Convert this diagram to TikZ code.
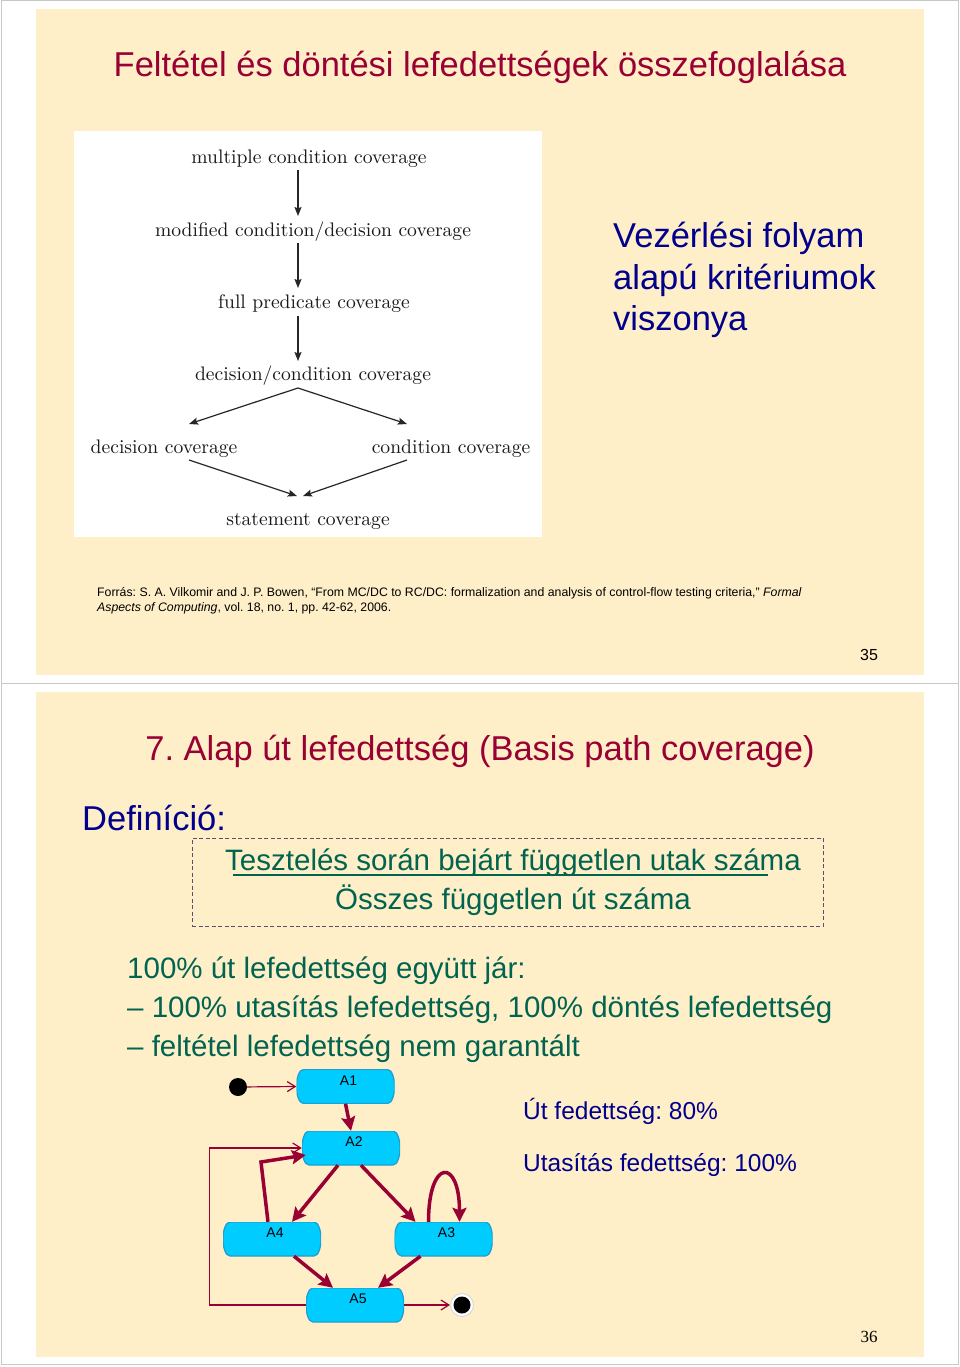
\documentclass[tikz,border=0pt]{standalone}
\usepackage{fontspec}
\newfontfamily\arialf{Liberation Sans}
\newfontfamily\timesf{Liberation Serif}
\usetikzlibrary{arrows.meta,calc}
\definecolor{cream}{RGB}{255,239,200}
\definecolor{dred}{RGB}{153,0,51}
\definecolor{dblue}{RGB}{0,0,140}
\definecolor{tealtx}{RGB}{0,100,80}
\definecolor{cyanbox}{RGB}{0,204,255}
\definecolor{cyanedge}{RGB}{30,160,210}
\definecolor{pageline}{RGB}{200,200,200}
\definecolor{dashc}{RGB}{90,80,110}
\definecolor{cmtext}{RGB}{25,25,25}
\begin{document}
\frenchspacing
\begin{tikzpicture}[x=1pt,y=-1pt,
  ttl/.style={font=\arialf\fontsize{34.5}{40}\selectfont, text=dred, inner sep=0, anchor=base},
  bluebig/.style={font=\arialf\fontsize{34.5}{41.5}\selectfont, text=dblue, inner sep=0},
  tealtext/.style={font=\arialf\fontsize{29.5}{35}\selectfont, text=tealtx, inner sep=0},
  bluemid/.style={font=\arialf\fontsize{24.5}{30}\selectfont, text=dblue, inner sep=0, anchor=base west},
  cmlbl/.style={text=cmtext, inner sep=0, anchor=base, scale=1.96, transform shape},
  cmarr/.style={draw=black!85, line width=1.2pt, -{Stealth[length=9pt,width=7pt,inset=1.5pt]}},
  actbox/.style={rectangle, minimum width=98pt, minimum height=34pt, inner sep=0pt,
    path picture={
      \path (path picture bounding box.north west) coordinate (pnw)
            (path picture bounding box.north east) coordinate (pne)
            (path picture bounding box.south west) coordinate (psw)
            (path picture bounding box.south east) coordinate (pse)
            (path picture bounding box.west) coordinate (pw)
            (path picture bounding box.east) coordinate (pe);
      \draw[fill=cyanbox, draw=cyanedge, line width=1.3pt]
        ($(pnw)+(7,0)$) -- ($(pne)+(-7,0)$)
        .. controls ($(pne)+(-2.5,0)$) and ($(pe)+(0,-8)$) .. (pe)
        .. controls ($(pe)+(0,8)$) and ($(pse)+(-2.5,0)$) .. ($(pse)+(-7,0)$)
        -- ($(psw)+(7,0)$)
        .. controls ($(psw)+(2.5,0)$) and ($(pw)+(0,8)$) .. (pw)
        .. controls ($(pw)+(0,-8)$) and ($(pnw)+(2.5,0)$) .. cycle;
    }},
  lbl/.style={anchor=north, inner sep=0pt, yshift=-6pt, xshift=3pt, font=\arialf\fontsize{14}{16}\selectfont},
  thk/.style={draw=dred, line width=3.5pt, -{Stealth[length=14pt,width=14pt,inset=2.5pt]}},
  thn/.style={draw=dred, line width=1.2pt, -{Straight Barb[length=8pt,width=10pt]}},
  blackdot/.style={circle, fill=black, inner sep=0pt, minimum size=18pt}
]
\useasboundingbox (0,0) rectangle (960,1367);
\fill[white] (0,0) rectangle (960,1367);
% page frames
\draw[pageline, line width=1pt] (1,1) rectangle (958,683);
\draw[pageline, line width=1pt] (1,683) rectangle (958,1364);
% panels
\fill[cream] (36,9) rectangle (924,675);
\fill[cream] (36,692) rectangle (924,1357);

% ---------- slide 35 ----------
\node[ttl] (t1) at (480,77) {Feltétel és döntési lefedettségek összefoglalása};
\fill[white] (74,131) rectangle (542,537);

\node[cmlbl] (mcc) at (309,164) {multiple condition coverage};
\node[cmlbl] (mcdc) at (313,236) {modified condition/decision coverage};
\node[cmlbl] (fpc) at (314,308) {full predicate coverage};
\node[cmlbl] (dcc) at (313,380) {decision/condition coverage};
\node[cmlbl] (dc) at (164,453) {decision coverage};
\node[cmlbl] (cc) at (451,453) {condition coverage};
\node[cmlbl] (sc) at (308,525) {statement coverage};

\coordinate (a1s) at (298,170); \coordinate (a1e) at (298,216);
\coordinate (a2s) at (298,243); \coordinate (a2e) at (298,288);
\coordinate (a3s) at (298,316); \coordinate (a3e) at (298,361);
\coordinate (apex) at (298,388);
\coordinate (dcin) at (189,424); \coordinate (ccin) at (407,424);
\coordinate (dcout) at (189,460); \coordinate (ccout) at (407,460);
\coordinate (scl) at (297,496); \coordinate (scr) at (303,496);
\draw[cmarr] (a1s) -- (a1e);
\draw[cmarr] (a2s) -- (a2e);
\draw[cmarr] (a3s) -- (a3e);
\draw[cmarr] (apex) -- (dcin);
\draw[cmarr] (apex) -- (ccin);
\draw[cmarr] (dcout) -- (scl);
\draw[cmarr] (ccout) -- (scr);

\node[bluebig, anchor=north west, align=left] (vez) at (613,222) {Vezérlési folyam\\alapú kritériumok\\viszonya};

\node[font=\arialf\fontsize{12.3}{15}\selectfont, inner sep=0, anchor=north west, align=left] (src) at (97,587)
 {Forrás: S. A. Vilkomir and J. P. Bowen, “From MC/DC to RC/DC: formalization and analysis of control-flow testing criteria,” \textit{Formal}\\\textit{Aspects of Computing}, vol. 18, no. 1, pp. 42-62, 2006.};
\node[font=\arialf\fontsize{16}{18}\selectfont, inner sep=0, anchor=base] (p35) at (869,660) {35};

% ---------- slide 36 ----------
\node[ttl] (t2) at (480,760) {7. Alap út lefedettség (Basis path coverage)};
\node[bluebig, anchor=base west] (def) at (82,830) {Definíció:};
\node[draw=dashc, line width=1pt, dash pattern=on 4pt off 2.5pt, minimum width=631pt, minimum height=88pt, inner sep=0] (fbox) at (507.5,882) {};
\node[tealtext, anchor=base] (num) at (513,870) {Tesztelés során bejárt független utak száma};
\node[tealtext, anchor=base] (den) at (513,909) {Összes független út száma};
\draw[tealtx, line width=1.3pt] (233,875) -- (768,875);

\node[tealtext, anchor=base west] (l1) at (127,978) {100\% út lefedettség együtt jár:};
\node[tealtext, anchor=base west] (l2) at (127,1017) {– 100\% utasítás lefedettség, 100\% döntés lefedettség};
\node[tealtext, anchor=base west] (l3) at (127,1056) {– feltétel lefedettség nem garantált};

% activity diagram
\node[blackdot] (start) at (238,1087) {};
\node[actbox, label={[lbl]north:A1}] (A1) at (345.5,1086.5) {};
\node[actbox, label={[lbl]north:A2}] (A2) at (351,1148) {};
\node[actbox, label={[lbl]north:A4}] (A4) at (272,1239) {};
\node[actbox, label={[lbl]north:A3}] (A3) at (443.5,1239) {};
\node[actbox, label={[lbl]north:A5}] (A5) at (355,1305) {};
\node[circle, draw=black!15, fill=white, line width=1pt, minimum size=23pt, inner sep=0] (endr) at (462,1305) {};
\node[blackdot, minimum size=17pt] (endd) at (462,1305) {};
\coordinate (bend) at (261,1162);

\draw[thn] (start) -- (A1.west);
\draw[thk] (A1.south) -- (A2.north);
\draw[thk] ([xshift=-13pt]A2.south) -- ([xshift=20pt]A4.north);
\draw[thk] ([xshift=10pt]A2.south) -- ([xshift=-28pt]A3.north);
\draw[thk] ([xshift=-4pt]A4.north) -- (bend) -- ($(A2.west)+(4,7)$);
\draw[thk] ([xshift=-15pt]A3.north) .. controls +(0,-64) and +(0,-64) .. ([xshift=16pt]A3.north);
\draw[thk] ([xshift=22pt]A4.south) -- ([xshift=-22pt]A5.north);
\draw[thk] ([xshift=-23pt]A3.south) -- ([xshift=23pt]A5.north);
\draw[thn] (A5.west) -- ++(-96,0) |- (A2.west);
\draw[thn] (A5.east) -- (endr);

\node[bluemid] (ut) at (523,1119) {Út fedettség: 80\%};
\node[bluemid] (uta) at (523,1171) {Utasítás fedettség: 100\%};
\node[font=\timesf\fontsize{17}{20}\selectfont, inner sep=0, anchor=base] (p36) at (869,1342) {36};
\end{tikzpicture}
\end{document}
